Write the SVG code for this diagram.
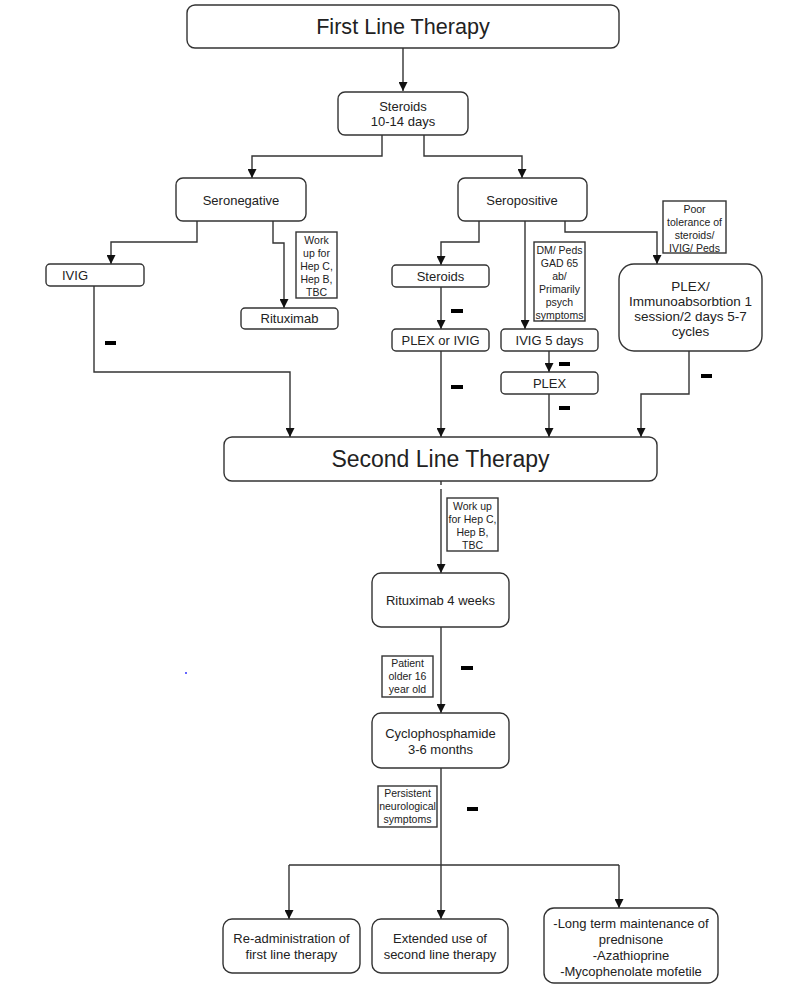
<svg xmlns="http://www.w3.org/2000/svg" width="800" height="999" viewBox="0 0 800 999">
<style>
.n{fill:#fff;stroke:#333;stroke-width:1.4}
.l{fill:#fff;stroke:#333;stroke-width:1.4}
.c{fill:none;stroke:#333;stroke-width:1.4}
.m{fill:#000}
text{font-family:"Liberation Sans",Arial,sans-serif;fill:#222;text-anchor:middle}
.t{font-size:13px}
.s{font-size:10.5px}
.big{font-size:21.6px}
</style>
<defs>
<marker id="a" viewBox="0 0 10 10" refX="10" refY="5" markerWidth="9" markerHeight="9" markerUnits="userSpaceOnUse" orient="auto">
<path d="M0,0 L10,5 L0,10 z" fill="#111"/>
</marker>
</defs>
<rect width="800" height="999" fill="#fff"/>
<g id="connectors">
<path class="c" d="M403,48 V91" marker-end="url(#a)"/>
<path class="c" d="M382,135 V156 H252 V178" marker-end="url(#a)"/>
<path class="c" d="M424,135 V156 H522 V178" marker-end="url(#a)"/>
<path class="c" d="M197,221 V242 H111 V264" marker-end="url(#a)"/>
<path class="c" d="M273,221 V243 H284 V308" marker-end="url(#a)"/>
<path class="c" d="M94,286 V372 H290 V437" marker-end="url(#a)"/>
<path class="c" d="M479,221 V242 H441 V265" marker-end="url(#a)"/>
<path class="c" d="M525,221 V329" marker-end="url(#a)"/>
<path class="c" d="M565,221 V232 H657 V264" marker-end="url(#a)"/>
<path class="c" d="M441,287 V329" marker-end="url(#a)"/>
<path class="c" d="M441,351 V437" marker-end="url(#a)"/>
<path class="c" d="M549,351 V372" marker-end="url(#a)"/>
<path class="c" d="M549,394 V437" marker-end="url(#a)"/>
<path class="c" d="M689,351 V394 H641 V437" marker-end="url(#a)"/>
<path class="c" d="M441,481 V485"/>
<path class="c" d="M441,489 V573" marker-end="url(#a)"/>
<path class="c" d="M441,627 V713" marker-end="url(#a)"/>
<path class="c" d="M441,768 V865"/>
<path class="c" d="M289,865 H619"/>
<path class="c" d="M289,865 V919" marker-end="url(#a)"/>
<path class="c" d="M441,865 V919" marker-end="url(#a)"/>
<path class="c" d="M619,865 V908" marker-end="url(#a)"/>
<rect class="m" x="105" y="341" width="11" height="4"/>
<rect class="m" x="451" y="309" width="12" height="4"/>
<rect class="m" x="451" y="385" width="12" height="4"/>
<rect class="m" x="559" y="362" width="11" height="4"/>
<rect class="m" x="559" y="406" width="11" height="4"/>
<rect class="m" x="701" y="374" width="11" height="4"/>
<rect class="m" x="461" y="666" width="12" height="4"/>
<rect class="m" x="467" y="807" width="11" height="4"/>
</g>
<g id="first-line">
<rect class="n" x="187" y="5" width="432" height="43" rx="8"/>
<text class="big" x="403" y="34">First Line Therapy</text>
</g>
<g id="steroids-top">
<rect class="n" x="338" y="92" width="130" height="43" rx="7"/>
<text class="t" x="403" y="111">Steroids</text>
<text class="t" x="403" y="126">10-14 days</text>
</g>
<g id="seronegative">
<rect class="n" x="176" y="178" width="130" height="43" rx="7"/>
<text class="t" x="241" y="205">Seronegative</text>
</g>
<g id="seropositive">
<rect class="n" x="458" y="178" width="129" height="43" rx="7"/>
<text class="t" x="522" y="205">Seropositive</text>
</g>
<g id="ivig">
<rect class="n" x="46" y="264" width="98" height="22" rx="4"/>
<text class="t" x="62" y="280" style="text-anchor:start">IVIG</text>
</g>
<g id="workup1">
<rect class="l" x="296" y="232" width="41" height="66"/>
<text class="s"><tspan x="316.5" y="244">Work</tspan><tspan x="316.5" y="257">up for</tspan><tspan x="316.5" y="270">Hep C,</tspan><tspan x="316.5" y="283">Hep B,</tspan><tspan x="316.5" y="296">TBC</tspan></text>
</g>
<g id="rituximab">
<rect class="n" x="241" y="308" width="97" height="21" rx="4"/>
<text class="t" x="289.5" y="323">Rituximab</text>
</g>
<g id="steroids2">
<rect class="n" x="392" y="265" width="97" height="22" rx="4"/>
<text class="t" x="440.5" y="281">Steroids</text>
</g>
<g id="dm-label">
<rect class="l" x="534" y="242" width="51" height="79"/>
<text class="s"><tspan x="559.5" y="254">DM/ Peds</tspan><tspan x="559.5" y="267">GAD 65</tspan><tspan x="559.5" y="280">ab/</tspan><tspan x="559.5" y="293">Primarily</tspan><tspan x="559.5" y="306">psych</tspan><tspan x="559.5" y="319">symptoms</tspan></text>
</g>
<g id="poor-label">
<rect class="l" x="663" y="201" width="63" height="52"/>
<text class="s"><tspan x="694.5" y="213">Poor</tspan><tspan x="694.5" y="226">tolerance of</tspan><tspan x="694.5" y="239">steroids/</tspan><tspan x="694.5" y="252">IVIG/ Peds</tspan></text>
</g>
<g id="plex-immuno">
<rect class="n" x="619" y="264" width="143" height="87" rx="15"/>
<text class="t" style="font-size:13.5px"><tspan x="690.5" y="291">PLEX/</tspan><tspan x="690.5" y="306">Immunoabsorbtion 1</tspan><tspan x="690.5" y="321">session/2 days 5-7</tspan><tspan x="690.5" y="336">cycles</tspan></text>
</g>
<g id="plex-or-ivig">
<rect class="n" x="392" y="329" width="97" height="22" rx="4"/>
<text class="t" x="440.5" y="345">PLEX or IVIG</text>
</g>
<g id="ivig5">
<rect class="n" x="501" y="329" width="97" height="22" rx="4"/>
<text class="t" x="549.5" y="345">IVIG 5 days</text>
</g>
<g id="plex">
<rect class="n" x="501" y="372" width="97" height="22" rx="4"/>
<text class="t" x="549.5" y="388">PLEX</text>
</g>
<g id="second-line">
<rect class="n" x="224" y="437" width="433" height="44" rx="8"/>
<text class="big" x="440.5" y="467" style="font-size:23px">Second Line Therapy</text>
</g>
<g id="workup2">
<rect class="l" x="447" y="498" width="51" height="53"/>
<text class="s"><tspan x="472.5" y="510">Work up</tspan><tspan x="472.5" y="523">for Hep C,</tspan><tspan x="472.5" y="536">Hep B,</tspan><tspan x="472.5" y="549">TBC</tspan></text>
</g>
<g id="rituximab4">
<rect class="n" x="372" y="573" width="137" height="54" rx="9"/>
<text class="t" x="440.5" y="605">Rituximab 4 weeks</text>
</g>
<g id="patient-label">
<rect class="l" x="382" y="656" width="51" height="41"/>
<text class="s"><tspan x="407.5" y="667">Patient</tspan><tspan x="407.5" y="680">older 16</tspan><tspan x="407.5" y="693">year old</tspan></text>
</g>
<g id="cyclophosphamide">
<rect class="n" x="372" y="713" width="137" height="55" rx="9"/>
<text class="t"><tspan x="440.5" y="738">Cyclophosphamide</tspan><tspan x="440.5" y="754">3-6 months</tspan></text>
</g>
<g id="persistent-label">
<rect class="l" x="378" y="786" width="59" height="41"/>
<text class="s"><tspan x="407.5" y="797">Persistent</tspan><tspan x="407.5" y="810">neurological</tspan><tspan x="407.5" y="823">symptoms</tspan></text>
</g>
<g id="readmin">
<rect class="n" x="223" y="919" width="137" height="54" rx="9"/>
<text class="t"><tspan x="291.5" y="943">Re-administration of</tspan><tspan x="291.5" y="959">first line therapy</tspan></text>
</g>
<g id="extended">
<rect class="n" x="372" y="919" width="136" height="54" rx="9"/>
<text class="t"><tspan x="440" y="943">Extended use of</tspan><tspan x="440" y="959">second line therapy</tspan></text>
</g>
<g id="longterm">
<rect class="n" x="544" y="908" width="174" height="75" rx="10"/>
<text class="t"><tspan x="631" y="928">-Long term maintenance of</tspan><tspan x="631" y="944">prednisone</tspan><tspan x="631" y="960">-Azathioprine</tspan><tspan x="631" y="976">-Mycophenolate mofetile</tspan></text>
</g>
<circle cx="186" cy="673" r="1" fill="#33f"/>
</svg>
